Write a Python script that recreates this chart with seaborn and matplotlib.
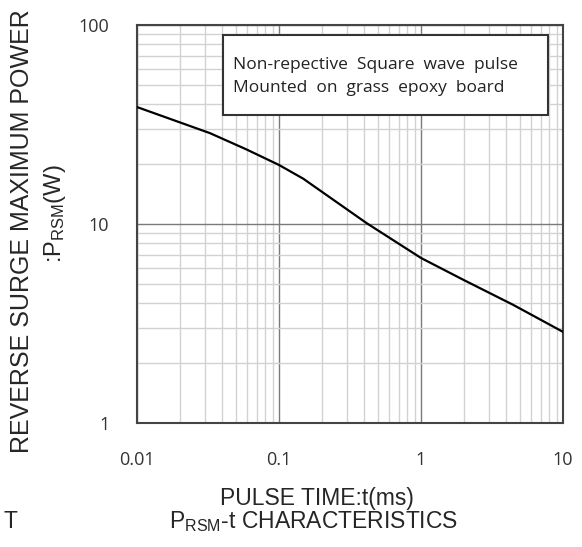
import numpy as np
import pandas as pd
import seaborn as sns
import matplotlib.pyplot as plt
from matplotlib.patches import Rectangle
from matplotlib.ticker import LogLocator, NullFormatter, FixedFormatter, FixedLocator

# curve
pulse_ms = [0.01, 0.0327, 0.059, 0.1, 0.148, 0.414, 1.0, 1.99, 4.47, 10.0]
power_w = [38.7, 28.6, 23.7, 19.8, 16.9, 10.1, 6.75, 5.24, 3.92, 2.87]

x_ticks = [0.01, 0.1, 1, 10]
x_labels = ['0.01', '0.1', '1', '10']
y_ticks = [1, 10, 100]
y_labels = ['1', '10', '100']

box_lines = ['Non-repective  Square  wave  pulse', 'Mounted  on  grass  epoxy  board']

sns.set_style('white')
plt.rcParams['font.family'] = ['Liberation Sans', 'DejaVu Sans']
plt.rcParams['mathtext.fontset'] = 'custom'
plt.rcParams['mathtext.rm'] = 'Liberation Sans'
plt.rcParams['mathtext.it'] = 'Liberation Sans'

df = pd.DataFrame({'t': pulse_ms, 'P': power_w})

fig = plt.figure(figsize=(5.82, 5.47), dpi=100)
ax = fig.add_axes([137 / 582, 1 - 423 / 547, 426 / 582, 398 / 547])

sns.lineplot(data=df, x='t', y='P', ax=ax, color='black', linewidth=1.6, zorder=5)
ax.set_xscale('log')
ax.set_yscale('log')
ax.set_xlim(0.01, 10)
ax.set_ylim(1, 100)

ax.xaxis.set_major_locator(FixedLocator(x_ticks))
ax.xaxis.set_major_formatter(FixedFormatter(x_labels))
ax.yaxis.set_major_locator(FixedLocator(y_ticks))
ax.yaxis.set_major_formatter(FixedFormatter(y_labels))
for axis in (ax.xaxis, ax.yaxis):
    axis.set_minor_locator(LogLocator(base=10, subs=np.arange(2, 10)))
    axis.set_minor_formatter(NullFormatter())

ax.grid(which='major', color='#7a7a7a', linewidth=1.0)
ax.grid(which='minor', color='#d2d2d2', linewidth=1.0)
ax.tick_params(which='both', length=0)
ax.tick_params(axis='x', pad=20, labelsize=13, labelcolor='#333333')
ax.tick_params(axis='y', pad=20, labelsize=13, labelcolor='#333333')
for lab in ax.get_xticklabels() + ax.get_yticklabels():
    lab.set_family('Open Sans')
for sp in ax.spines.values():
    sp.set_color('#444444')
    sp.set_linewidth(1.5)
ax.set_xlabel('')
ax.set_ylabel('')

ax.add_patch(Rectangle((0.202, 0.774), 0.763, 0.201, transform=ax.transAxes,
                       facecolor='white', edgecolor='#333333', linewidth=1.5, zorder=6))
ax.text(0.225, 0.8995, box_lines[0], transform=ax.transAxes, va='center', ha='left',
        fontsize=12.5, family='Open Sans', color='#222222', zorder=7)
ax.text(0.225, 0.842, box_lines[1], transform=ax.transAxes, va='center', ha='left',
        fontsize=12.5, family='Open Sans', color='#222222', zorder=7)

fig.text(22 / 582, 1 - 231 / 547, 'REVERSE SURGE MAXIMUM POWER', rotation=90,
         ha='center', va='center', fontsize=18)
fig.text(55 / 582, 1 - 214 / 547, r':P$_{\mathrm{RSM}}$(W)', rotation=90,
         ha='center', va='center', fontsize=17)
fig.text(317 / 582, 1 - 498 / 547, 'PULSE TIME:t(ms)', ha='center', va='center', fontsize=16.5)
fig.text(314 / 582, 1 - 522 / 547, r'P$_{\mathrm{RSM}}$-t CHARACTERISTICS',
         ha='center', va='center', fontsize=16.5)
fig.text(3 / 582, 1 - 522 / 547, 'T', ha='left', va='center', fontsize=16.5)

fig.savefig('out.png', dpi=100)
